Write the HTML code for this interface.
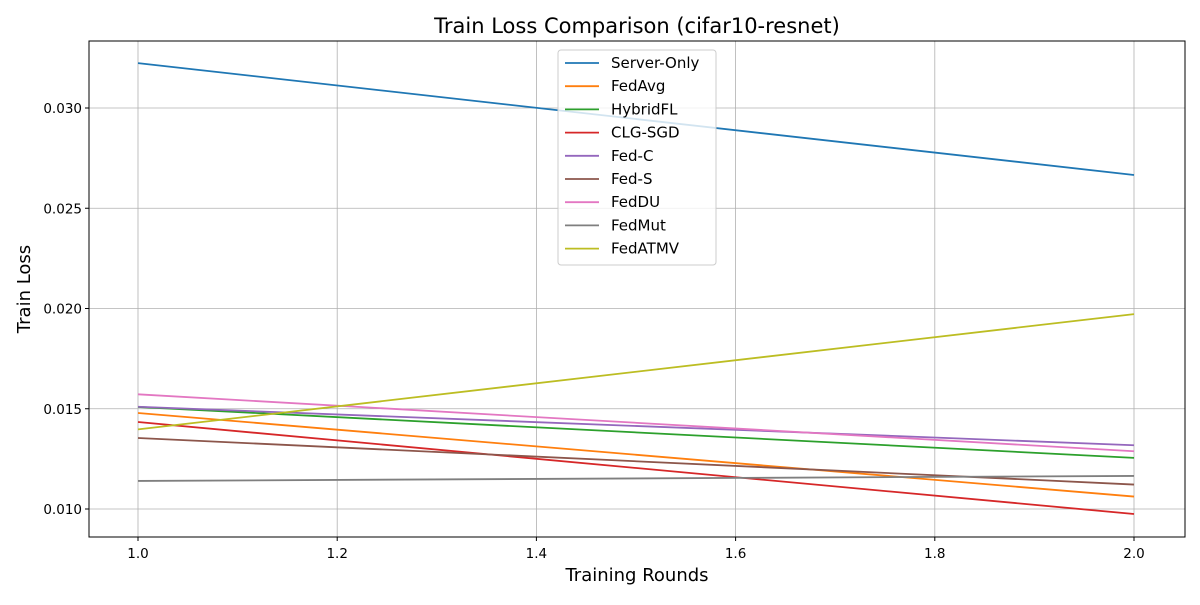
<!DOCTYPE html>
<html><head><meta charset="utf-8"><style>
body{margin:0;background:#fff;font-family:"Liberation Sans","DejaVu Sans",sans-serif}
svg text{font-family:"DejaVu Sans","Liberation Sans",sans-serif}
</style></head><body>
<svg id="chart" width="1200" height="600">
<rect width="1200" height="600" fill="#fff"/>
<g id="grid"></g><g id="series"></g><g id="axes"></g><g id="legend"></g>
</svg>
<script>
const rounds=[1.0,2.0];
const seriesNames=["Server-Only","FedAvg","HybridFL","CLG-SGD","Fed-C","Fed-S","FedDU","FedMut","FedATMV"];
const serverOnly=[0.03224,0.02666];
const fedAvg=[0.01479,0.01062];
const hybridFL=[0.01509,0.01255];
const clgSgd=[0.01434,0.00975];
const fedC=[0.01510,0.01318];
const fedS=[0.01354,0.01122];
const fedDU=[0.01572,0.01288];
const fedMut=[0.01140,0.01165];
const fedATMV=[0.01397,0.01972];
const xTicks=[1.0,1.2,1.4,1.6,1.8,2.0];
const yTicks=[0.010,0.015,0.020,0.025,0.030];
const values=[serverOnly,fedAvg,hybridFL,clgSgd,fedC,fedS,fedDU,fedMut,fedATMV];
const colors=["#1f77b4","#ff7f0e","#2ca02c","#d62728","#9467bd","#8c564b","#e377c2","#7f7f7f","#bcbd22"];
const NS="http://www.w3.org/2000/svg";
const L=89,R=1185,T=41,B=537;
const xs=v=>138+(v-1)*996;
const ys=v=>509-(v-0.010)/0.005*100.25;
function mk(tag,attrs,parent,text){const e=document.createElementNS(NS,tag);for(const k in attrs)e.setAttribute(k,attrs[k]);if(text!==undefined)e.textContent=text;parent.appendChild(e);return e;}
const grid=document.getElementById('grid'),axes=document.getElementById('axes'),ser=document.getElementById('series'),leg=document.getElementById('legend');
xTicks.forEach(t=>{const x=xs(t);
const g=mk('line',{x1:x,x2:x,y1:T,y2:B,stroke:'#b0b0b0','stroke-width':0.8},grid);

mk('line',{x1:x,x2:x,y1:B,y2:B+4,stroke:'#000'},axes);
const tl=mk('text',{x:x,y:B+21,'text-anchor':'middle','font-size':13.5},axes,t.toFixed(1));
});
yTicks.forEach(t=>{const y=ys(t);
const g=mk('line',{x1:L,x2:R,y1:y,y2:y,stroke:'#b0b0b0','stroke-width':0.8},grid);

mk('line',{x1:L-4,x2:L,y1:y,y2:y,stroke:'#000'},axes);
const tl=mk('text',{x:L-7,y:y+5,'text-anchor':'end','font-size':13.5},axes,t.toFixed(3));
});
const fr=mk('rect',{x:L,y:T,width:R-L,height:B-T,fill:'none',stroke:'#000','stroke-width':1},axes);

values.forEach((vals,i)=>{const pts=vals.map((v,j)=>xs(rounds[j])+','+ys(v)).join(' ');
const pl=mk('polyline',{points:pts,fill:'none',stroke:colors[i],'stroke-width':1.8},ser);
});
const title=mk('text',{x:637,y:33,'text-anchor':'middle','font-size':21},axes,'Train Loss Comparison (cifar10-resnet)');

const xt=mk('text',{x:637,y:581,'text-anchor':'middle','font-size':18},axes,'Training Rounds');

const yt=mk('text',{x:30,y:289,'text-anchor':'middle','font-size':18,transform:'rotate(-90 30 289)'},axes,'Train Loss');

const lb=mk('rect',{x:558,y:50,width:158,height:215,rx:3,fill:'#fff','fill-opacity':0.8,stroke:'#ccc'},leg);

seriesNames.forEach((n,i)=>{const y=63+i*23.2;
const g=mk('g',{},leg);

mk('line',{x1:565,x2:599,y1:y,y2:y,stroke:colors[i],'stroke-width':1.8},g);
mk('text',{x:611,y:y+5,'font-size':15},g,n);});
</script>
</body></html>
